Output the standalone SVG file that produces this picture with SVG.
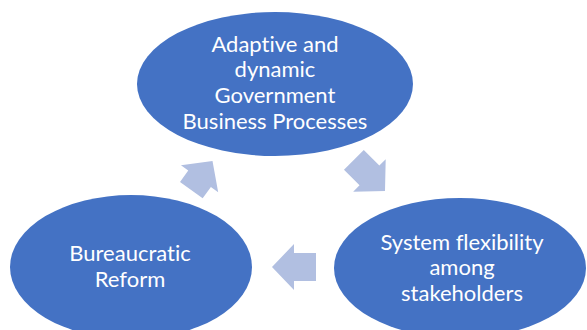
<svg xmlns="http://www.w3.org/2000/svg" width="587" height="330" viewBox="0 0 587 330">
  <style>
    .node { fill: #4472C4; }
    .label { fill: #FFFFFF; font-family: "Lato", "Open Sans", "Liberation Sans", sans-serif; font-size: 22px; text-anchor: middle; font-variant-ligatures: none; }
    .arrow { fill: #B1BFE1; }
  </style>
  <defs>
    <!-- block arrow pointing along +x, tip at the origin -->
    <polygon id="blockArrow" points="0,0 -22,-23 -22,-14 -44,-14 -44,14 -22,14 -22,23"/>
    <polygon id="blockArrowShort" points="0,0 -22,-23 -22,-14 -36,-14 -36,14 -22,14 -22,23"/>
  </defs>
  <rect width="587" height="330" fill="#FFFFFF"/>

  <g id="connectors">
    <use href="#blockArrowShort" class="arrow" transform="translate(212.5,161) rotate(-54)"/>
    <use href="#blockArrow" class="arrow" transform="translate(385,191) rotate(45)"/>
    <use href="#blockArrow" class="arrow" transform="translate(272,267) rotate(180)"/>
  </g>

  <g id="node-processes">
    <ellipse class="node" cx="275" cy="84" rx="138" ry="72"/>
    <text class="label" x="275" y="52">Adaptive and</text>
    <text class="label" x="275" y="77">dynamic</text>
    <text class="label" x="275" y="103">Government</text>
    <text class="label" x="275" y="129">Business Processes</text>
  </g>

  <g id="node-flexibility">
    <ellipse class="node" cx="460" cy="268" rx="126" ry="70"/>
    <text class="label" x="462" y="250">System flexibility</text>
    <text class="label" x="462" y="275">among</text>
    <text class="label" x="462" y="301">stakeholders</text>
  </g>

  <g id="node-reform">
    <ellipse class="node" cx="131" cy="267" rx="121" ry="72"/>
    <text class="label" x="130" y="261">Bureaucratic</text>
    <text class="label" x="130" y="287">Reform</text>
  </g>
</svg>
